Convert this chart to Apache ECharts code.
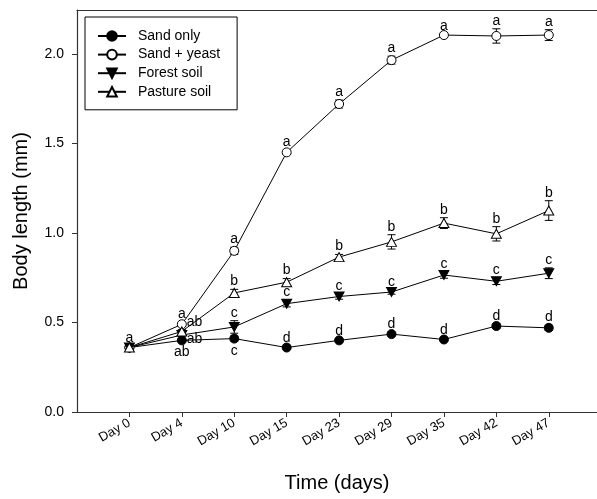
<!DOCTYPE html>
<html>
<head>
<meta charset="utf-8">
<script src="https://cdn.jsdelivr.net/npm/echarts@6/dist/echarts.min.js"></script>
<style>
  html, body { margin: 0; padding: 0; background: #fff; }
  #chart { width: 597px; height: 499px; }
</style>
</head>
<body>
<div id="chart"></div>
<script>
// sampling days
var days = ['Day 0', 'Day 4', 'Day 10', 'Day 15', 'Day 23', 'Day 29', 'Day 35', 'Day 42', 'Day 47']
var yTicks = [0, 0.5, 1.0, 1.5, 2.0]

// body length means (mm), standard errors and significance letters
var sandOnly = [0.36, 0.40, 0.41, 0.36, 0.40, 0.435, 0.405, 0.48, 0.47]
var sandOnlyErr = [0.01, 0.01, 0.015, 0.008, 0.008, 0.01, 0.008, 0.012, 0.015]
var sandOnlyLetters = ['', 'ab', 'c', 'd', 'd', 'd', 'd', 'd', 'd']

var sandYeast = [0.36, 0.49, 0.90, 1.45, 1.72, 1.965, 2.105, 2.10, 2.105]
var sandYeastErr = [0.01, 0.01, 0.02, 0.012, 0.022, 0.022, 0.006, 0.04, 0.03]
var sandYeastLetters = ['a', 'a', 'a', 'a', 'a', 'a', 'a', 'a', 'a']

var forestSoil = [0.36, 0.43, 0.475, 0.605, 0.645, 0.67, 0.765, 0.73, 0.775]
var forestSoilErr = [0.01, 0.01, 0.035, 0.018, 0.015, 0.012, 0.018, 0.018, 0.03]
var forestSoilLetters = ['', 'ab', 'c', 'c', 'c', 'c', 'c', 'c', 'c']

var pastureSoil = [0.36, 0.45, 0.665, 0.725, 0.865, 0.95, 1.055, 0.995, 1.125]
var pastureSoilErr = [0.01, 0.01, 0.02, 0.02, 0.015, 0.04, 0.03, 0.04, 0.055]
var pastureSoilLetters = ['', 'ab', 'b', 'b', 'b', 'b', 'b', 'b', 'b']

var FONT = '"Liberation Sans", Arial, sans-serif'
var dayIdx = days.map(function (d, i) { return i })

// where a letter goes, by series and day (most sit above the bar)
function letterPlace (key, i) {
  if (i === 1 && key === 'pasture') return { pos: 'right', dy: -9 }
  if (i === 1 && key === 'forest') return { pos: 'right', dy: 4 }
  if ((i === 1 || i === 2) && key === 'sand') return { pos: 'bottom', dy: 0 }
  return { pos: 'top', dy: 0 }
}

function errorSeries (key, means, errs, letters) {
  return {
    type: 'custom',
    z: 1,
    silent: true,
    data: means.map(function (v, i) { return [i, v, errs[i]] }),
    renderItem: function (params, api) {
      var i = params.dataIndex
      var x = api.value(0)
      var m = api.value(1)
      var e = api.value(2)
      var hi = api.coord([x, m + e])
      var lo = api.coord([x, m - e])
      var mid = api.coord([x, m])
      var w = 4
      var stroke = { stroke: '#000', lineWidth: 1 }
      var kids = [
        { type: 'line', shape: { x1: hi[0], y1: hi[1], x2: lo[0], y2: lo[1] }, style: stroke },
        { type: 'line', shape: { x1: hi[0] - w, y1: hi[1], x2: hi[0] + w, y2: hi[1] }, style: stroke },
        { type: 'line', shape: { x1: lo[0] - w, y1: lo[1], x2: lo[0] + w, y2: lo[1] }, style: stroke }
      ]
      var txt = letters[i]
      if (txt) {
        var p = letterPlace(key, i)
        var tx = mid[0], ty = hi[1] - 1, va = 'bottom', ta = 'center'
        if (p.pos === 'right') { tx = mid[0] + 5; ty = mid[1] + p.dy; va = 'middle'; ta = 'left' }
        if (p.pos === 'bottom') { ty = lo[1] + 3; va = 'top' }
        kids.push({
          type: 'text',
          style: { text: txt, x: tx, y: ty, align: ta, verticalAlign: va, fill: '#000', font: '14px ' + FONT }
        })
      }
      return { type: 'group', children: kids }
    }
  }
}

function lineSeries (name, means, symbol, fill, size) {
  return {
    name: name,
    type: 'line',
    z: 3,
    data: means.map(function (v, i) { return [i, v] }),
    symbol: symbol,
    symbolSize: size,
    showAllSymbol: true,
    lineStyle: { color: '#000', width: 1 },
    itemStyle: { color: fill, borderColor: '#000', borderWidth: 1 },
    emphasis: { disabled: true }
  }
}

var chart = echarts.init(document.getElementById('chart'))
chart.setOption({
  animation: false,
  backgroundColor: '#fff',
  textStyle: { fontFamily: FONT },
  grid: { left: 77, right: 0, top: 10, bottom: 87 },
  legend: {
    orient: 'vertical',
    left: 85,
    top: 17,
    padding: [12, 17, 11, 12],
    borderColor: '#000',
    borderWidth: 1,
    itemWidth: 28,
    itemHeight: 12,
    itemGap: 4.6,
    textStyle: { fontSize: 14, color: '#000', fontFamily: FONT, padding: [0, 0, 0, 7] },
    data: ['Sand only', 'Sand + yeast', 'Forest soil', 'Pasture soil']
  },
  xAxis: [{
    type: 'value',
    min: -1,
    max: 8.92,
    name: 'Time (days)',
    nameLocation: 'middle',
    nameGap: 61,
    nameTextStyle: { fontSize: 20, color: '#000', fontFamily: FONT },
    splitLine: { show: false },
    axisLine: { onZero: false, lineStyle: { color: '#333', width: 1.2 } },
    axisTick: { length: 5, lineStyle: { color: '#333' }, customValues: dayIdx },
    axisLabel: {
      customValues: dayIdx,
      formatter: function (v) { return days[v] },
      rotate: 30,
      margin: 10,
      fontSize: 13,
      color: '#000',
      fontFamily: FONT
    }
  }, {
    type: 'value',
    position: 'top',
    min: -1,
    max: 8.92,
    splitLine: { show: false },
    axisLine: { show: true, onZero: false, lineStyle: { color: '#333', width: 1.2 } },
    axisTick: { show: false },
    axisLabel: { show: false }
  }],
  yAxis: {
    type: 'value',
    min: 0,
    max: 2.245,
    name: 'Body length (mm)',
    nameLocation: 'middle',
    nameGap: 46,
    nameTextStyle: { fontSize: 20, color: '#000', fontFamily: FONT },
    splitLine: { show: false },
    axisLine: { show: true, onZero: false, lineStyle: { color: '#333', width: 1.2 } },
    axisTick: { show: true, length: 5, lineStyle: { color: '#333' }, customValues: yTicks },
    axisLabel: {
      customValues: yTicks,
      formatter: function (v) { return v.toFixed(1) },
      margin: 13,
      fontSize: 14,
      color: '#000',
      fontFamily: FONT
    }
  },
  series: [
    errorSeries('sand', sandOnly, sandOnlyErr, sandOnlyLetters),
    errorSeries('yeast', sandYeast, sandYeastErr, sandYeastLetters),
    errorSeries('forest', forestSoil, forestSoilErr, forestSoilLetters),
    errorSeries('pasture', pastureSoil, pastureSoilErr, pastureSoilLetters),
    lineSeries('Sand only', sandOnly, 'circle', '#000', 9),
    lineSeries('Sand + yeast', sandYeast, 'circle', '#fff', 9),
    lineSeries('Forest soil', forestSoil, 'path://M0,0L10,0L5,9Z', '#000', [10, 9]),
    lineSeries('Pasture soil', pastureSoil, 'triangle', '#fff', [10, 9])
  ]
})
</script>
</body>
</html>
